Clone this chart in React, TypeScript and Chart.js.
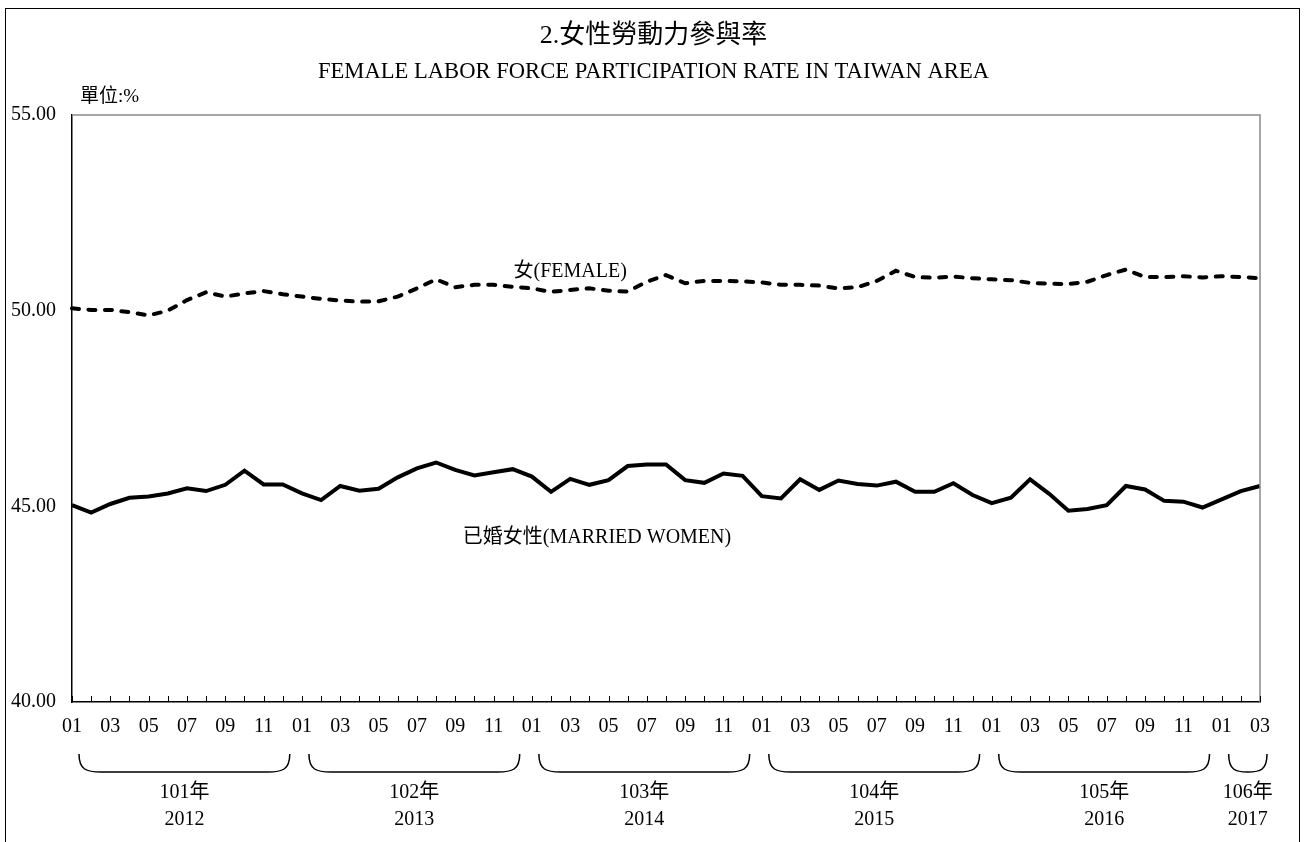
import React, { useEffect, useRef } from "react";
import { Chart, registerables } from "chart.js";

Chart.register(...registerables);

const titleZh = "2.女性勞動力參與率";
const titleEn = "FEMALE LABOR FORCE PARTICIPATION RATE IN TAIWAN AREA";
const unitLabel = "單位:%";

const rocYears = ["101年", "102年", "103年", "104年", "105年", "106年"];
const adYears = ["2012", "2013", "2014", "2015", "2016", "2017"];
const monthsPerYear = [12, 12, 12, 12, 12, 3];
const monthNames = ["01", "02", "03", "04", "05", "06", "07", "08", "09", "10", "11", "12"];

const female = [
  50.06, 50.02, 50.02, 49.96, 49.88, 50.0, 50.27, 50.47, 50.36, 50.44,
  50.5, 50.42, 50.36, 50.3, 50.26, 50.23, 50.24, 50.36, 50.57, 50.8,
  50.6, 50.66, 50.66, 50.61, 50.57, 50.48, 50.53, 50.57, 50.51, 50.49,
  50.74, 50.91, 50.7, 50.76, 50.76, 50.75, 50.72, 50.66, 50.66, 50.64,
  50.57, 50.6, 50.76, 51.02, 50.86, 50.84, 50.87, 50.83, 50.8, 50.78,
  50.71, 50.69, 50.68, 50.74, 50.91, 51.05, 50.86, 50.86, 50.88, 50.85,
  50.88, 50.86, 50.83,
];

const married = [
  45.03, 44.84, 45.06, 45.22, 45.25, 45.33, 45.46, 45.39, 45.55, 45.91,
  45.56, 45.56, 45.33, 45.16, 45.52, 45.4, 45.45, 45.74, 45.97, 46.12,
  45.93, 45.79, 45.87, 45.95, 45.76, 45.37, 45.7, 45.55, 45.67, 46.03,
  46.07, 46.07, 45.67, 45.6, 45.84, 45.78, 45.26, 45.2, 45.69, 45.42,
  45.66, 45.57, 45.53, 45.63, 45.37, 45.37, 45.59, 45.29, 45.08, 45.22,
  45.69, 45.32, 44.89, 44.93, 45.03, 45.52, 45.43, 45.14, 45.12, 44.97,
  45.18, 45.39, 45.52,
];

const seriesLabels = ["女(FEMALE)", "已婚女性(MARRIED WOMEN)"];
const seriesLabelIdx = [26.0, 27.4];
const seriesLabelVal = [50.99, 44.19];

const yTicks = [40, 45, 50, 55];

const FONT = "'Liberation Serif', 'Noto Sans CJK TC', serif";

const categories: string[] = [];
const yearStart: number[] = [];
monthsPerYear.forEach((n) => {
  yearStart.push(categories.length);
  for (let m = 0; m < n; m++) categories.push(monthNames[m]);
});

const annotPlugin = {
  id: "annot",
  afterDraw(chart: any) {
    const ctx = chart.ctx as CanvasRenderingContext2D;
    const { left, right, top, bottom } = chart.chartArea;
    const xs = chart.scales.x;
    const ys = chart.scales.y;
    const W = chart.width;
    ctx.save();
    // outer frame
    ctx.strokeStyle = "#000";
    ctx.lineWidth = 1;
    ctx.strokeRect(5.5, 8.5, 1294, 900);
    // plot border top/right
    ctx.strokeStyle = "#8a8a8a";
    ctx.lineWidth = 1.5;
    ctx.beginPath();
    ctx.moveTo(left, top);
    ctx.lineTo(right, top);
    ctx.lineTo(right, bottom);
    ctx.stroke();
    // x tick marks (inside)
    ctx.strokeStyle = "#000";
    ctx.lineWidth = 1;
    ctx.beginPath();
    for (let i = 0; i < categories.length; i++) {
      const x = Math.round(xs.getPixelForValue(i)) + 0.5;
      ctx.moveTo(x, bottom);
      ctx.lineTo(x, bottom - 6);
    }
    ctx.stroke();
    // titles
    ctx.fillStyle = "#000";
    ctx.textAlign = "center";
    ctx.textBaseline = "middle";
    ctx.font = `26px ${FONT}`;
    ctx.fillText(titleZh, W / 2, 36);
    ctx.font = `22.6px ${FONT}`;
    ctx.fillText(titleEn, W / 2, 72);
    // unit
    ctx.textAlign = "left";
    ctx.font = `19px ${FONT}`;
    ctx.fillText(unitLabel, left + 8, 97);
    // series labels
    ctx.textAlign = "center";
    ctx.font = `20px ${FONT}`;
    seriesLabels.forEach((t, k) => {
      ctx.fillText(t, xs.getPixelForValue(seriesLabelIdx[k]), ys.getPixelForValue(seriesLabelVal[k]));
    });
    // braces & year labels
    ctx.lineWidth = 1.5;
    const by0 = bottom + 52;
    const by1 = bottom + 70;
    rocYears.forEach((roc, k) => {
      const s = yearStart[k];
      const e = s + monthsPerYear[k] - 1;
      const x0 = xs.getPixelForValue(s) + 7;
      const x1 = xs.getPixelForValue(e) + 7;
      const r = Math.min(22, (x1 - x0) / 2);
      ctx.beginPath();
      ctx.moveTo(x0, by0);
      ctx.bezierCurveTo(x0, by1 - 2, x0 + r * 0.35, by1, x0 + r, by1);
      ctx.lineTo(x1 - r, by1);
      ctx.bezierCurveTo(x1 - r * 0.35, by1, x1, by1 - 2, x1, by0);
      ctx.stroke();
      const cx = (x0 + x1) / 2;
      ctx.font = `20px ${FONT}`;
      ctx.fillText(roc, cx, bottom + 91);
      ctx.fillText(adYears[k], cx, bottom + 118);
    });
    ctx.restore();
  },
};

export default function App() {
  const ref = useRef<HTMLCanvasElement | null>(null);
  useEffect(() => {
    if (!ref.current) return;
    const chart = new Chart(ref.current, {
      type: "line",
      data: {
        labels: categories,
        datasets: [
          {
            label: seriesLabels[0],
            data: female,
            borderColor: "#000",
            borderWidth: 4,
            borderDash: [7, 9.5],
            borderCapStyle: "round",
            pointRadius: 0,
            tension: 0,
            fill: false,
          },
          {
            label: seriesLabels[1],
            data: married,
            borderColor: "#000",
            borderWidth: 4,
            pointRadius: 0,
            tension: 0,
            fill: false,
          },
        ],
      },
      options: {
        responsive: false,
        animation: false,
        layout: { padding: { left: 0, top: 115, right: 47, bottom: 0 } },
        plugins: { legend: { display: false }, tooltip: { enabled: false }, title: { display: false } },
        scales: {
          x: {
            type: "category",
            offset: false,
            grid: { display: false, drawTicks: false },
            border: { display: true, color: "#000", width: 1.5 },
            ticks: {
              autoSkip: false,
              maxRotation: 0,
              minRotation: 0,
              padding: 13,
              color: "#000",
              font: { family: FONT, size: 20 },
              callback: (_v: any, i: number) => (i % 2 === 0 ? categories[i] : ""),
            },
            afterFit: (s: any) => {
              s.height = 140;
            },
          },
          y: {
            min: yTicks[0],
            max: yTicks[yTicks.length - 1],
            grid: { display: false, drawTicks: false },
            border: { display: true, color: "#000", width: 1.5 },
            afterBuildTicks: (s: any) => {
              s.ticks = yTicks.map((v) => ({ value: v }));
            },
            ticks: {
              padding: 16,
              color: "#000",
              font: { family: FONT, size: 20 },
              callback: (v: any) => Number(v).toFixed(2),
            },
            afterFit: (s: any) => {
              s.width = 72;
            },
          },
        },
      },
      plugins: [annotPlugin],
    } as any);
    return () => chart.destroy();
  }, []);
  return (
    <div style={{ position: "absolute", left: 0, top: 0, width: 1307, height: 842, background: "#fff" }}>
      <canvas ref={ref} width={1307} height={842} style={{ display: "block", width: 1307, height: 842 }} />
    </div>
  );
}
